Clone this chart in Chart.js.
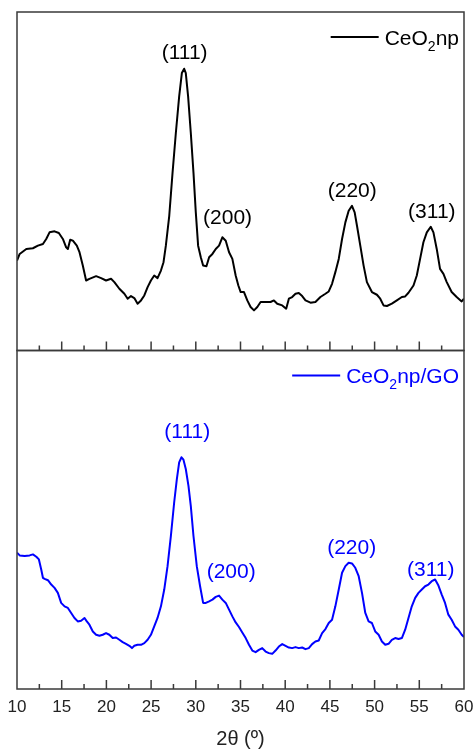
<!DOCTYPE html>
<html>
<head>
<meta charset="utf-8">
<script src="https://cdn.jsdelivr.net/npm/chart.js@4.4.1/dist/chart.umd.min.js"></script>
<style>
  html, body { margin: 0; padding: 0; background: #fff; }
  canvas { display: block; }
</style>
</head>
<body>
<canvas id="xrdChart" width="476" height="751"></canvas>
<script>
// CeO2np pattern, 2theta (deg) and intensity (a.u.)
const npTheta = [10.00, 10.30, 11.04, 11.78, 12.34, 12.90, 13.27, 13.64, 14.20, 14.68, 15.13, 15.50, 15.69, 15.95, 16.25, 16.69, 16.99, 17.36, 17.73, 18.10, 18.85, 19.41, 19.96, 20.52, 20.89, 21.45, 22.01, 22.38, 22.75, 23.12, 23.49, 23.87, 24.24, 24.61, 24.98, 25.35, 25.72, 26.10, 26.39, 26.65, 27.03, 27.40, 27.77, 28.14, 28.44, 28.70, 28.88, 29.14, 29.44, 29.74, 30.00, 30.26, 30.56, 30.82, 31.19, 31.49, 31.86, 32.23, 32.60, 32.97, 33.35, 33.72, 34.09, 34.46, 34.76, 35.02, 35.39, 35.76, 36.13, 36.51, 36.88, 37.25, 37.81, 38.36, 38.74, 39.11, 39.67, 40.11, 40.41, 40.78, 41.15, 41.52, 41.90, 42.27, 42.83, 43.38, 43.94, 44.50, 44.87, 45.24, 45.61, 45.99, 46.36, 46.73, 47.10, 47.47, 47.77, 48.03, 48.40, 48.77, 49.14, 49.70, 50.26, 50.63, 51.00, 51.38, 51.93, 52.49, 53.05, 53.42, 53.79, 54.35, 54.72, 55.09, 55.46, 55.84, 56.28, 56.58, 56.95, 57.32, 57.70, 58.07, 58.62, 59.18, 59.74, 60.00];
const npCounts = [90.3, 97.0, 102.0, 102.7, 105.3, 107.0, 112.0, 118.7, 119.7, 118.0, 112.0, 103.7, 102.0, 111.3, 110.3, 105.3, 98.7, 85.3, 70.3, 72.0, 74.7, 72.7, 70.3, 72.0, 68.7, 62.0, 57.0, 52.0, 54.7, 52.7, 47.0, 50.3, 55.3, 63.7, 70.3, 75.3, 72.7, 80.3, 88.7, 105.3, 135.3, 178.7, 218.7, 255.3, 278.7, 283.0, 278.7, 255.3, 218.7, 178.7, 138.7, 105.3, 93.7, 85.3, 84.7, 93.7, 97.0, 102.0, 105.3, 113.7, 110.3, 98.7, 92.0, 75.3, 65.3, 58.7, 58.7, 50.3, 43.7, 40.3, 43.7, 48.7, 48.7, 48.7, 50.3, 47.0, 45.3, 42.0, 52.0, 53.7, 57.0, 57.7, 54.7, 50.3, 48.0, 48.7, 53.7, 57.0, 59.3, 67.0, 78.7, 92.0, 112.0, 128.7, 140.3, 145.3, 138.7, 125.3, 105.3, 85.3, 68.7, 58.7, 56.0, 52.0, 45.3, 44.7, 47.0, 50.3, 53.7, 54.3, 58.0, 65.3, 75.3, 92.0, 108.7, 118.7, 124.3, 118.7, 102.0, 82.0, 77.0, 68.7, 58.7, 53.7, 49.3, 52.0];

// CeO2np/GO pattern
const goTheta = [10.00, 10.30, 10.86, 11.41, 11.78, 12.16, 12.45, 12.71, 12.90, 13.09, 13.46, 13.83, 14.20, 14.57, 14.94, 15.32, 15.69, 16.06, 16.43, 16.80, 17.17, 17.55, 17.81, 18.10, 18.48, 18.85, 19.22, 19.59, 19.96, 20.33, 20.71, 21.08, 21.45, 21.82, 22.19, 22.57, 22.86, 23.12, 23.49, 23.87, 24.24, 24.61, 24.98, 25.35, 25.72, 26.10, 26.47, 26.84, 27.21, 27.58, 27.88, 28.14, 28.40, 28.62, 28.88, 29.18, 29.44, 29.74, 30.11, 30.48, 30.82, 31.12, 31.49, 31.86, 32.23, 32.60, 32.97, 33.35, 33.72, 34.09, 34.46, 34.83, 35.20, 35.58, 35.95, 36.32, 36.69, 37.06, 37.43, 37.81, 38.18, 38.55, 38.92, 39.29, 39.67, 40.04, 40.41, 40.78, 41.15, 41.52, 41.90, 42.27, 42.64, 43.01, 43.38, 43.75, 44.13, 44.50, 44.87, 45.24, 45.61, 45.99, 46.36, 46.73, 47.10, 47.47, 47.84, 48.22, 48.59, 48.96, 49.33, 49.70, 50.07, 50.45, 50.82, 51.19, 51.56, 51.93, 52.30, 52.68, 53.05, 53.42, 53.79, 54.16, 54.54, 54.91, 55.28, 55.65, 56.02, 56.39, 56.77, 57.14, 57.51, 57.88, 58.25, 58.62, 59.00, 59.37, 59.74, 60.00];
const goCounts = [135.7, 133.0, 132.3, 133.0, 134.0, 131.7, 129.0, 119.0, 110.7, 109.7, 108.3, 104.0, 100.7, 95.7, 85.7, 82.3, 80.7, 75.7, 70.7, 67.3, 68.0, 70.7, 67.3, 64.0, 57.3, 54.0, 53.0, 54.0, 55.7, 54.0, 50.7, 51.3, 49.0, 46.7, 45.0, 43.0, 40.7, 43.0, 44.0, 44.0, 45.7, 49.0, 54.0, 62.3, 70.7, 82.3, 99.0, 122.3, 152.3, 185.7, 209.0, 225.7, 230.7, 228.3, 219.0, 202.3, 182.3, 152.3, 122.3, 102.3, 85.7, 85.7, 87.3, 89.0, 91.7, 93.0, 89.0, 85.7, 79.0, 72.3, 66.3, 61.7, 56.3, 50.7, 44.0, 38.3, 36.7, 39.0, 40.7, 37.3, 35.7, 35.0, 38.3, 42.3, 44.7, 43.0, 41.3, 40.7, 41.7, 40.7, 41.3, 39.7, 40.7, 44.7, 47.3, 48.3, 55.7, 59.7, 65.7, 69.0, 82.3, 99.0, 115.7, 122.3, 125.7, 125.0, 120.7, 112.3, 95.7, 75.7, 67.3, 65.7, 57.3, 54.0, 47.3, 44.0, 45.0, 49.0, 50.7, 49.7, 50.7, 59.0, 70.7, 82.3, 90.7, 95.7, 99.0, 102.3, 104.0, 107.3, 109.0, 103.0, 94.0, 85.7, 74.0, 69.0, 62.3, 59.0, 54.0, 51.7];

// Miller indices and where their labels sit (2theta, intensity)
const hklLabels = ["(111)", "(200)", "(220)", "(311)"];
const npHklTheta = [28.75, 33.55, 47.5, 56.4];
const npHklLevel = [299, 133, 160.5, 138.5];
const goHklTheta = [29.05, 33.96, 47.44, 56.28];
const goHklLevel = [255.5, 116, 140, 118.5];

const FONT = "'Liberation Sans', Arial, sans-serif";
const FRAME = "#3a3a3a";

// frame, inward ticks, legends and hkl labels for both panels
const panelDecor = {
    id: "panelDecor",
    afterDatasetsDraw(chart) {
        const { ctx, scales } = chart;
        const x = scales.x;
        const panels = [
            { scale: scales.yTop, color: "#000000", name: ["CeO", "2", "np"],
              theta: npHklTheta, level: npHklLevel },
            { scale: scales.yBot, color: "#0000ff", name: ["CeO", "2", "np/GO"],
              theta: goHklTheta, level: goHklLevel }
        ];
        ctx.save();
        panels.forEach(p => {
            const y = p.scale;
            // frame
            ctx.strokeStyle = FRAME;
            ctx.lineWidth = 1.5;
            ctx.strokeRect(x.left, y.top, x.right - x.left, y.bottom - y.top);

            // major ticks from the axis, minor ones halfway between
            ctx.beginPath();
            x.ticks.forEach((t, i) => {
                const px = x.getPixelForValue(t.value);
                if (t.value > x.min && t.value < x.max) {
                    ctx.moveTo(px, y.bottom);
                    ctx.lineTo(px, y.bottom - 9);
                }
                if (i < x.ticks.length - 1) {
                    const mx = x.getPixelForValue((t.value + x.ticks[i + 1].value) / 2);
                    ctx.moveTo(mx, y.bottom);
                    ctx.lineTo(mx, y.bottom - 5);
                }
            });
            ctx.stroke();

            // hkl labels
            ctx.fillStyle = p.color;
            ctx.font = "21px " + FONT;
            ctx.textAlign = "center";
            ctx.textBaseline = "middle";
            hklLabels.forEach((lab, i) => {
                ctx.fillText(lab, x.getPixelForValue(p.theta[i]), y.getPixelForValue(p.level[i]));
            });

            // legend, right aligned, with subscript 2
            ctx.textAlign = "left";
            ctx.textBaseline = "alphabetic";
            const big = "21px " + FONT, small = "14px " + FONT;
            ctx.font = big;
            const w0 = ctx.measureText(p.name[0]).width;
            const w2 = ctx.measureText(p.name[2]).width;
            ctx.font = small;
            const w1 = ctx.measureText(p.name[1]).width;
            const right = x.right - 5;
            const start = right - (w0 + w1 + w2);
            const ly = y.top + 25;
            const base = y.top + 32.5;
            ctx.font = big;
            ctx.fillText(p.name[0], start, base);
            ctx.font = small;
            ctx.fillText(p.name[1], start + w0, base + 6);
            ctx.font = big;
            ctx.fillText(p.name[2], start + w0 + w1, base);
            ctx.strokeStyle = p.color;
            ctx.lineWidth = 2;
            ctx.beginPath();
            ctx.moveTo(start - 54, ly);
            ctx.lineTo(start - 6, ly);
            ctx.stroke();
        });
        ctx.restore();
    }
};

const hiddenY = (max) => ({
    type: "linear",
    position: "left",
    stack: "xrd",
    stackWeight: 1,
    min: 0,
    max: max,
    ticks: { display: false },
    grid: { display: false, drawTicks: false },
    border: { display: false }
});

new Chart(document.getElementById("xrdChart"), {
    type: "line",
    data: {
        datasets: [
            {
                label: "CeO2np",
                data: npTheta.map((t, i) => ({ x: t, y: npCounts[i] })),
                yAxisID: "yTop",
                borderColor: "#000000",
                borderWidth: 2,
                pointRadius: 0,
                tension: 0,
                borderJoinStyle: "round"
            },
            {
                label: "CeO2np/GO",
                data: goTheta.map((t, i) => ({ x: t, y: goCounts[i] })),
                yAxisID: "yBot",
                borderColor: "#0000ff",
                borderWidth: 2,
                pointRadius: 0,
                tension: 0,
                borderJoinStyle: "round"
            }
        ]
    },
    options: {
        responsive: false,
        animation: false,
        layout: {
            padding: { top: 12, left: 17, right: 12, bottom: 0 }
        },
        plugins: {
            legend: { display: false },
            tooltip: { enabled: false }
        },
        scales: {
            x: {
                type: "linear",
                min: 10,
                max: 60,
                afterFit: (scale) => {
                    // fixed axis band, and no extra inset for the end labels
                    scale.height = 62;
                    scale.paddingLeft = 0;
                    scale.paddingRight = 0;
                },
                ticks: {
                    stepSize: 5,
                    color: "#222",
                    padding: 8,
                    font: { family: FONT, size: 17 }
                },
                grid: { display: false, drawTicks: false },
                border: { display: false },
                title: {
                    display: true,
                    text: "2θ (º)",
                    color: "#222",
                    padding: { top: 12, bottom: 0 },
                    font: { family: FONT, size: 20 }
                }
            },
            yBot: hiddenY(337),
            yTop: hiddenY(340)
        }
    },
    plugins: [panelDecor]
});
</script>
</body>
</html>
